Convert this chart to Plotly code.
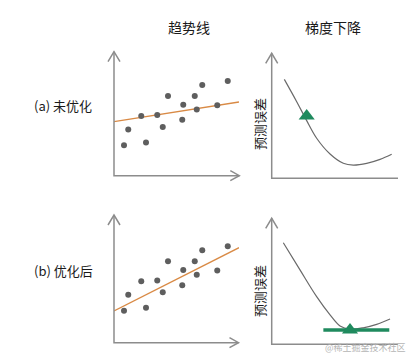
import plotly.graph_objects as go

# ---------------- data ----------------
scatter_x = [0.8, 1.14, 2.18, 2.56, 3.46, 3.9, 4.32, 5.46, 5.54, 6.46, 6.62, 7.06, 8.26, 9.10]
scatter_y = [2.47, 3.76, 4.84, 2.70, 4.91, 3.95, 6.45, 4.53, 5.74, 6.45, 5.36, 7.34, 5.70, 7.67]
trend_x = [0, 10]
trend_a = [4.38, 5.97]   # (a) not optimized
trend_b = [2.44, 7.55]   # (b) optimized

loss_a_x = [1.0, 1.98, 2.77, 3.56, 4.62, 5.67, 6.46, 7.52, 8.58, 9.50]
loss_a_y = [7.98, 6.18, 4.65, 3.23, 1.96, 1.21, 1.07, 1.21, 1.53, 1.94]
pos_a = (2.77, 5.02)

loss_b_x = [0.92, 2.24, 3.56, 4.62, 5.41, 6.20, 7.24, 8.31, 9.37]
loss_b_y = [8.19, 6.00, 3.84, 2.37, 1.48, 1.23, 1.33, 1.61, 2.04]
pos_b = (6.2, 1.15)
tangent_x = [4.09, 9.31]
tangent_y = [1.15, 1.15]

col_titles = ["趋势线", "梯度下降"]
row_labels = ["(a) 未优化", "(b) 优化后"]
ylabel = "预测误差"
watermark = "@稀土掘金技术社区"

# ---------------- layout helpers ----------------
W, H = 414, 362
def fx(p): return p / W
def fy(p): return 1 - p / H

AXIS_COL = "#8c8c8c"
DOT_COL = "#5e5e5e"
ORANGE = "#d98a45"
GREEN = "#1f8a5e"
CURVE_COL = "#6a6a6a"
FONT = "Noto Sans CJK SC"

fig = go.Figure()

panels = {
    # name: (x px left, x px right, y px bottom, y px top)
    "A": (114, 239, 176, 52),
    "B": (114, 239, 341.3, 217.3),
    "C": (271.7, 398, 178.3, 54.3),
    "D": (271.7, 398, 344.3, 220.3),
}
axis_ids = {"A": ("x", "y"), "B": ("x2", "y2"), "C": ("x3", "y3"), "D": ("x4", "y4")}

for i, (k, (xl, xr, yb, yt)) in enumerate(panels.items()):
    n = "" if i == 0 else str(i + 1)
    fig.layout["xaxis" + n] = dict(domain=[fx(xl), fx(xr)], range=[0, 10], visible=False,
                                   anchor="y" + n, fixedrange=True)
    fig.layout["yaxis" + n] = dict(domain=[fy(yb), fy(yt)], range=[0, 10], visible=False,
                                   anchor="x" + n, fixedrange=True)

# scatter + trend lines
for k, trend in (("A", trend_a), ("B", trend_b)):
    xa, ya = axis_ids[k]
    fig.add_trace(go.Scatter(x=trend_x, y=trend, mode="lines", xaxis=xa, yaxis=ya,
                             line=dict(color=ORANGE, width=1.3), showlegend=False))
    fig.add_trace(go.Scatter(x=scatter_x, y=scatter_y, mode="markers", xaxis=xa, yaxis=ya,
                             marker=dict(color=DOT_COL, size=6), showlegend=False))

# loss curves
fig.add_trace(go.Scatter(x=loss_a_x, y=loss_a_y, mode="lines", xaxis="x3", yaxis="y3",
                         line=dict(color=CURVE_COL, width=1.2, shape="spline"), showlegend=False))
fig.add_trace(go.Scatter(x=[pos_a[0]], y=[pos_a[1]], mode="markers", xaxis="x3", yaxis="y3",
                         marker=dict(symbol="triangle-up", color=GREEN, size=14), showlegend=False))

fig.add_trace(go.Scatter(x=loss_b_x, y=loss_b_y, mode="lines", xaxis="x4", yaxis="y4",
                         line=dict(color=CURVE_COL, width=1.2, shape="spline"), showlegend=False))
fig.add_trace(go.Scatter(x=tangent_x, y=tangent_y, mode="lines", xaxis="x4", yaxis="y4",
                         line=dict(color=GREEN, width=3.5), showlegend=False))
fig.add_trace(go.Scatter(x=[pos_b[0]], y=[pos_b[1]], mode="markers", xaxis="x4", yaxis="y4",
                         marker=dict(symbol="triangle-up", color=GREEN, size=14), showlegend=False))

# axes drawn as arrows
def path(points):
    return "M " + " L ".join(f"{fx(x):.5f},{fy(y):.5f}" for x, y in points)

shapes = []
def add_axes(x0, ytop, ybot, xend, x_arrow):
    s = [path([(x0, ytop), (x0, ybot), (xend, ybot)]),
         path([(x0 - 6, ytop + 10), (x0, ytop), (x0 + 6, ytop + 10)])]
    if x_arrow:
        s.append(path([(xend - 9, ybot - 5), (xend, ybot), (xend - 9, ybot + 5)]))
    for p in s:
        shapes.append(dict(type="path", path=p, xref="paper", yref="paper",
                           line=dict(color=AXIS_COL, width=1.5)))

add_axes(114, 51.7, 175.7, 239.3, True)
add_axes(114, 215, 342.7, 238.5, True)
add_axes(271.7, 53.3, 178.3, 398, False)
add_axes(271.7, 218.3, 344.3, 398, False)

annotations = [
    dict(text=col_titles[0], x=fx(188.7), y=fy(27), font=dict(size=14, color="#1a1a1a")),
    dict(text=col_titles[1], x=fx(332.5), y=fy(26.5), font=dict(size=14, color="#1a1a1a")),
    dict(text=row_labels[0], x=fx(63.5), y=fy(105), font=dict(size=13, color="#1a1a1a")),
    dict(text=row_labels[1], x=fx(63.5), y=fy(270.7), font=dict(size=13, color="#1a1a1a")),
    dict(text=ylabel, x=fx(259), y=fy(124), textangle=-90, font=dict(size=13, color="#1a1a1a")),
    dict(text=ylabel, x=fx(259), y=fy(291), textangle=-90, font=dict(size=13, color="#1a1a1a")),
    dict(text=watermark, x=fx(365), y=fy(347.5), font=dict(size=9, color="#b5b5b5")),
]
for a in annotations:
    a.update(xref="paper", yref="paper", showarrow=False, xanchor="center", yanchor="middle")

fig.update_layout(width=W, height=H, margin=dict(l=0, r=0, t=0, b=0),
                  paper_bgcolor="white", plot_bgcolor="white",
                  font=dict(family=FONT), shapes=shapes, annotations=annotations,
                  showlegend=False, hovermode=False)

fig.write_html("out.html", config={"displayModeBar": False, "staticPlot": True},
               post_script="document.body.style.margin='0';document.body.style.overflow='hidden';")
